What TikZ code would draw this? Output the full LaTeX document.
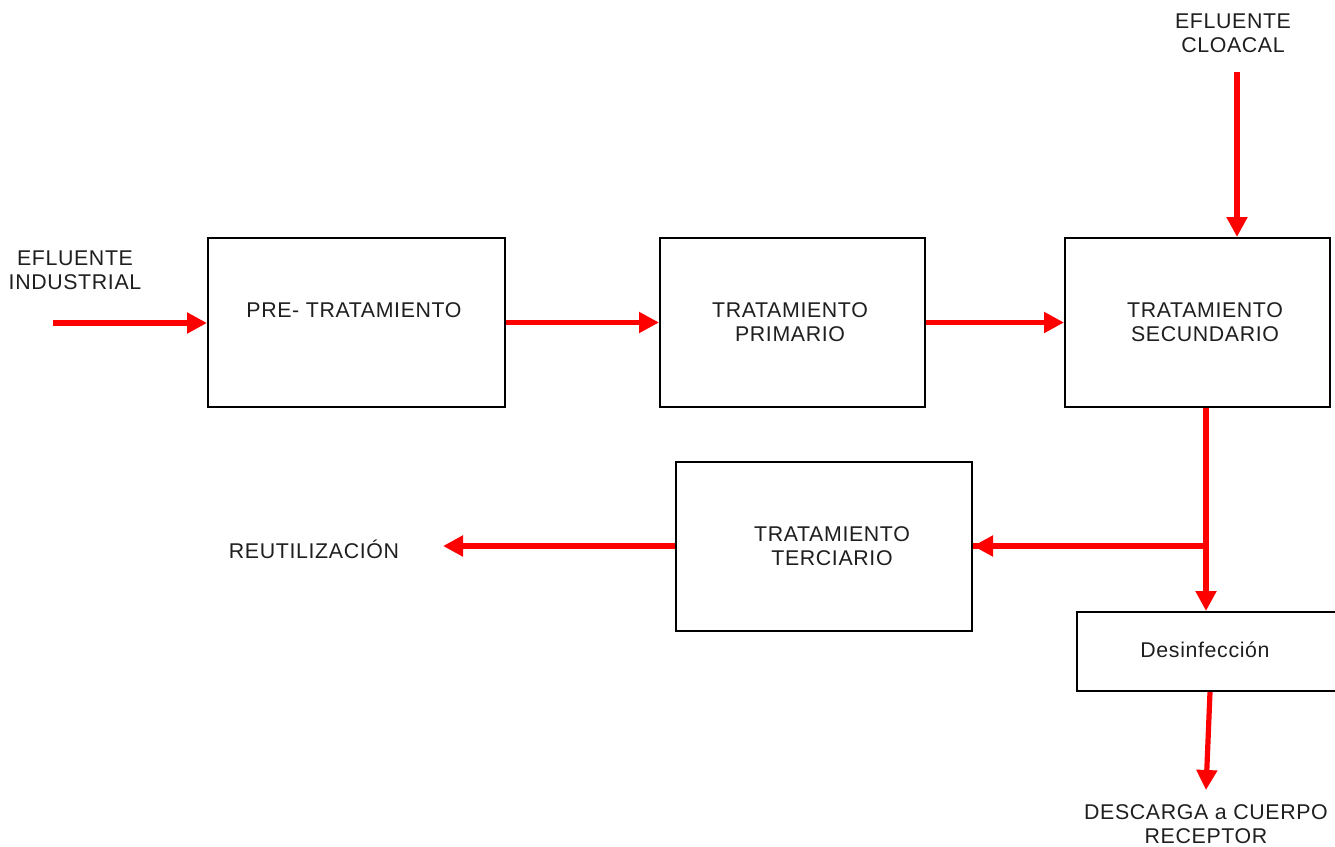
\documentclass[tikz,border=0pt]{standalone}
\usepackage{fontspec}
\setmainfont[LetterSpace=3]{Liberation Sans}
\usetikzlibrary{arrows.meta}
\begin{document}
\begin{tikzpicture}[x=0.75pt,y=-0.75pt,
  box/.style={draw=black,line width=1.5pt,rectangle,inner sep=0pt,align=center},
  lbl/.style={align=center,inner sep=0pt,text=black!88,font=\fontsize{16}{18}\selectfont},
  flow/.style={draw=red,line width=3.9pt,-{Triangle[length=15pt,width=15pt]}},
  plain/.style={draw=red,line width=3.9pt}]
\clip (0,0) rectangle (1335,846);
\useasboundingbox (0,0) rectangle (1335,846);
\fill[white] (0,0) rectangle (1335,846);
% boxes
\node[box,minimum width=222.75pt,minimum height=126.75pt] (pre) at (356.5,322.5) {};
\node[lbl] (pret) at (354,310) {PRE- TRATAMIENTO};
\node[box,minimum width=198.75pt,minimum height=126.75pt] (prim) at (792.5,322.5) {};
\node[lbl] (primt) at (790,322) {TRATAMIENTO\\PRIMARIO};
\node[box,minimum width=198.75pt,minimum height=126.75pt] (sec) at (1197.5,322.5) {};
\node[lbl] (sect) at (1205,322) {TRATAMIENTO\\SECUNDARIO};
\node[box,minimum width=222pt,minimum height=126.75pt] (ter) at (824,546.5) {};
\node[lbl] (tert) at (832,546) {TRATAMIENTO\\TERCIARIO};
\node[box,minimum width=201pt,minimum height=59.25pt] (des) at (1211,651.5) {};
\node[lbl] (dest) at (1205,650) {Desinfección};
% labels
\node[lbl] (ind) at (75,270) {EFLUENTE\\INDUSTRIAL};
\node[lbl] (clo) at (1233,33) {EFLUENTE\\CLOACAL};
\node[lbl] (reut) at (314,549) {REUTILIZACIÓN};
\node[lbl] (desc) at (1206,824) {DESCARGA a CUERPO\\RECEPTOR};
% coordinates
\coordinate (in1) at (53,323);
\coordinate (c0) at (1237,72);
\coordinate (j) at (1206,546);
\coordinate (reu) at (443,546);
\coordinate (dout) at (1206,790);
% connectors
\draw[flow] (in1) -- (in1 -| pre.west);
\draw[flow] (pre.east) -- (prim.west);
\draw[flow] (prim.east) -- (sec.west);
\draw[flow] (c0) -- (c0 |- sec.north);
\draw[flow] (sec.south -| j) -- (j |- des.north);
\draw[plain] ([xshift=1.9pt]j) -- (j -| ter.east);
\draw[flow] (j) -- (j -| ter.east);
\draw[flow] (j -| ter.west) -- (reu);
\draw[flow] ([xshift=3pt]des.south -| j) -- (dout);
\end{tikzpicture}
\end{document}
